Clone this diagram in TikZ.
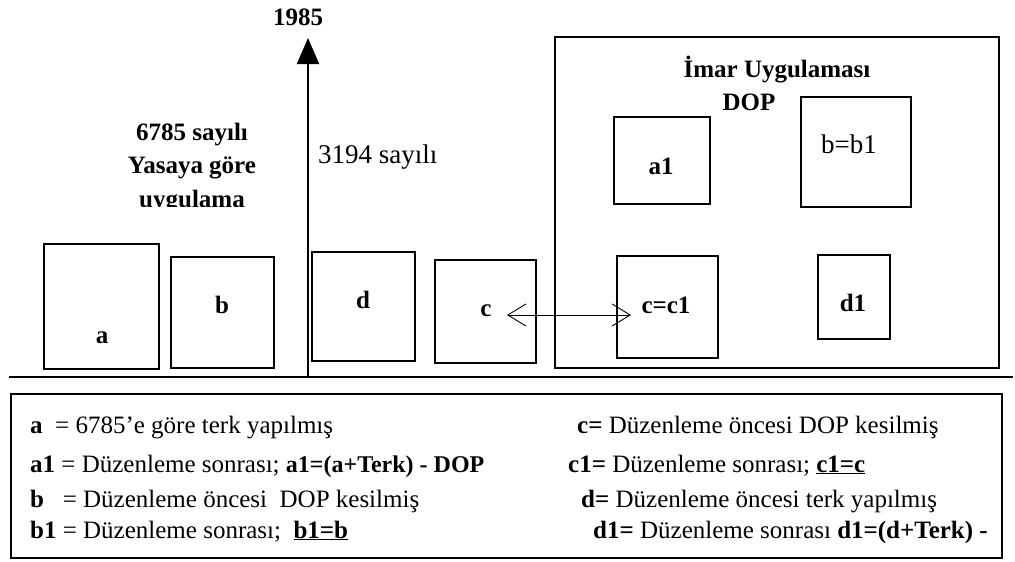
\documentclass[tikz,border=0pt]{standalone}
\usepackage{fontspec}
\setmainfont{Liberation Serif}
\usepackage{tikz}
\usetikzlibrary{arrows.meta, positioning}

\begin{document}
\begin{tikzpicture}[
    x=1pt, y=-1pt,
    parcel/.style={rectangle, draw=black, line width=1.2pt, inner sep=0pt},
    frame/.style={rectangle, draw=black, line width=2.4pt, inner sep=0pt},
    boxtag/.style={font=\fontsize{25}{30}\selectfont\bfseries, inner sep=0pt},
    thintag/.style={font=\fontsize{27}{32}\selectfont, inner sep=0pt},
    legendline/.style={font=\fontsize{25}{30}\selectfont, inner sep=0pt, anchor=base west},
    arrow/.style={-{Triangle[length=26pt, width=22pt]}, line width=2pt},
    swap/.style={{Straight Barb[length=18pt, width=22pt]}-{Straight Barb[length=18pt, width=22pt]}, line width=0.9pt}
]
    \useasboundingbox (0,0) rectangle (1015,562);

    % Ground line and 1985 axis
    \coordinate (groundW) at (9,377);
    \coordinate (groundE) at (1013,377);
    \coordinate (axisfoot) at (308,377);
    \coordinate (axistop) at (308,38);
    \draw[line width=2.5pt] (groundW) -- (groundE);
    \draw[arrow] (axisfoot) -- (axistop);
    \node[boxtag] (year) at (298,17) {1985};

    % Law titles
    \node[boxtag, anchor=base] (law1) at (192,140) {6785 sayılı};
    \node[boxtag, anchor=base] (law2) at (192,173) {Yasaya göre};
    \begin{scope}
        \clip (100,180) rectangle (290,206);
        \node[boxtag, anchor=base] (law3) at (192,207) {uygulama};
    \end{scope}
    \node[thintag, anchor=base west] (newlaw) at (318,163) {3194 sayılı};

    % Parcels before the plan
    \node[parcel, minimum width=115pt, minimum height=125pt] (a) at (101.5,306.5) {};
    \node[parcel, minimum width=103pt, minimum height=111pt] (b) at (222.5,312.5) {};
    \node[parcel, minimum width=103pt, minimum height=109pt] (d) at (363.5,306.5) {};
    \node[parcel, minimum width=101pt, minimum height=103pt] (c) at (485.5,311.5) {};
    \node[boxtag] (atxt) at (102,338) {a};
    \node[boxtag] (btxt) at (222,305) {b};
    \node[boxtag] (dtxt) at (363,300) {d};
    \node[boxtag] (ctxt) at (486,311) {c};

    % Plan area
    \node[frame, minimum width=444pt, minimum height=331pt] (plan) at (777,202.5) {};
    \node[boxtag, anchor=base] (plantitle) at (777,77) {İmar Uygulaması};
    \node[boxtag, anchor=base] (plandop) at (749,110) {DOP};
    \node[parcel, minimum width=96pt, minimum height=87pt] (a1) at (662,160.5) {};
    \node[parcel, minimum width=110pt, minimum height=110pt] (b1) at (856,152) {};
    \node[parcel, minimum width=101pt, minimum height=102pt] (c1) at (667.5,307) {};
    \node[parcel, minimum width=72pt, minimum height=84pt] (d1) at (854,297) {};
    \node[boxtag] (a1txt) at (661,166) {a1};
    \node[thintag] (b1txt) at (849,144) {b=b1};
    \node[boxtag] (c1txt) at (666,305) {c=c1};
    \node[boxtag] (d1txt) at (853,303) {d1};

    % c kept as c1
    \coordinate (swapL) at (507,315);
    \coordinate (swapR) at (631,315);
    \draw[swap] (swapL) -- (swapR);

    % Legend
    \node[parcel, line width=1.4pt, minimum width=991pt, minimum height=164pt] (legend) at (506.5,476) {};
    \node[legendline] (la) at (30,433) {\textbf{a}\ \ = 6785’e göre terk yapılmış};
    \node[legendline] (la1) at (30,472) {\textbf{a1} = Düzenleme sonrası; {\fontsize{24}{30}\selectfont\textbf{a1=(a+Terk) - DOP}}};
    \node[legendline] (lb) at (30,507) {\textbf{b}\ \ \ = Düzenleme öncesi\ \ DOP kesilmiş};
    \node[legendline] (lb1) at (30,538) {\textbf{b1} = Düzenleme sonrası;\ \ \textbf{\underline{b1=b}}};
    \node[legendline] (lc) at (577,433) {\textbf{c=} Düzenleme öncesi DOP kesilmiş};
    \node[legendline] (lc1) at (568,472) {\textbf{c1=} Düzenleme sonrası; \textbf{\underline{c1=c}}};
    \node[legendline] (ld) at (581,507) {\textbf{d=} Düzenleme öncesi terk yapılmış};
    \node[legendline] (ld1) at (593,538) {\textbf{d1=} Düzenleme sonrası \textbf{d1=(d+Terk) -}};
\end{tikzpicture}
\end{document}
